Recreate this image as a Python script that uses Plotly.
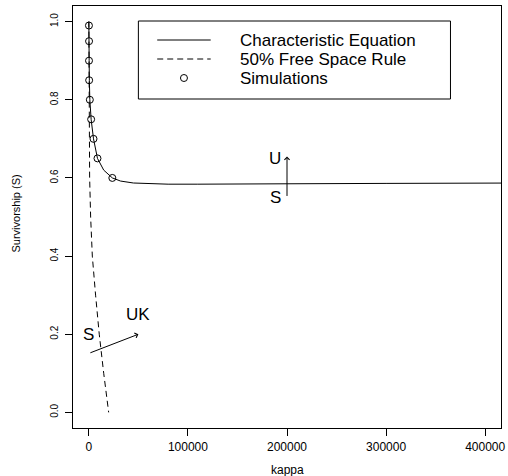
import plotly.graph_objects as go

# ---- data ----
char_kappa = [0, 100, 200, 300, 500, 1000, 2300, 4700, 8700, 15000, 23700, 32000,
              45000, 60000, 80000, 110000, 150000, 200000, 300000, 400000, 440000]
char_S = [1.0, 0.99, 0.95, 0.9, 0.85, 0.8, 0.75, 0.7, 0.65, 0.62, 0.6, 0.592,
          0.587, 0.585, 0.584, 0.584, 0.585, 0.585, 0.586, 0.587, 0.587]

free_kappa = [0, 50, 200, 450, 800, 1800, 3500, 6800, 10500, 15000, 20000]
free_S = [1.0, 0.9, 0.8, 0.7, 0.6, 0.5, 0.4, 0.3, 0.2, 0.1, 0.0]

sim_kappa = [100, 200, 150, 300, 1000, 2300, 4700, 8700, 23700]
sim_S = [0.99, 0.95, 0.9, 0.85, 0.8, 0.75, 0.7, 0.65, 0.6]

x_ticks = [0, 100000, 200000, 300000, 400000]
y_ticks = [0.0, 0.2, 0.4, 0.6, 0.8, 1.0]
y_tick_text = ["0.0", "0.2", "0.4", "0.6", "0.8", "1.0"]

# arrows: (x_tail, y_tail, x_head, y_head)
arrow_uk = (0, 0.151, 50000, 0.2)
arrow_u = (200000, 0.55, 200000, 0.655)
labels = [("S", 0, 0.2), ("UK", 50000, 0.25), ("U", 188000, 0.65), ("S", 188000, 0.55)]

legend_items = ["Characteristic Equation", "50% Free Space Rule", "Simulations"]

FONT = "Liberation Sans, Arial, sans-serif"
W, H = 508, 476
ML, MR, MT, MB = 73, 3, 6, 48
PW, PH = W - ML - MR, H - MT - MB


def px(x):
    return (x - ML) / PW


def py(y):
    return (H - MB - y) / PH


fig = go.Figure()
fig.add_trace(go.Scatter(x=char_kappa, y=char_S, mode="lines",
                         line=dict(color="black", width=1), showlegend=False))
fig.add_trace(go.Scatter(x=free_kappa, y=free_S, mode="lines",
                         line=dict(color="black", width=1, dash="6px,4px"), showlegend=False))
fig.add_trace(go.Scatter(x=sim_kappa, y=sim_S, mode="markers",
                         marker=dict(symbol="circle-open", size=7, color="black",
                                     line=dict(width=1, color="black")),
                         showlegend=False))

for (x0, y0, x1, y1) in (arrow_uk, arrow_u):
    fig.add_annotation(x=x1, y=y1, ax=x0, ay=y0, xref="x", yref="y", axref="x", ayref="y",
                       showarrow=True, arrowhead=4, arrowsize=1, arrowwidth=1,
                       arrowcolor="black", text="")

for t, x, y in labels:
    fig.add_annotation(x=x, y=y, xref="x", yref="y", text=t, showarrow=False,
                       xanchor="center", yanchor="middle",
                       font=dict(family=FONT, size=17, color="black"))

# legend box (drawn)
fig.add_shape(type="rect", xref="paper", yref="paper", x0=px(139), x1=px(454),
              y0=py(99), y1=py(21), line=dict(color="black", width=1))
rows = [40, 59, 78]
fig.add_shape(type="line", xref="paper", yref="paper", x0=px(158), x1=px(212),
              y0=py(rows[0]), y1=py(rows[0]), line=dict(color="black", width=1))
fig.add_shape(type="line", xref="paper", yref="paper", x0=px(158), x1=px(212),
              y0=py(rows[1]), y1=py(rows[1]), line=dict(color="black", width=1, dash="6px,4px"))
fig.add_shape(type="circle", xref="paper", yref="paper", xsizemode="pixel", ysizemode="pixel",
              xanchor=px(185), yanchor=py(rows[2]), x0=-3.5, x1=3.5, y0=-3.5, y1=3.5,
              line=dict(color="black", width=1))
for t, r in zip(legend_items, rows):
    fig.add_annotation(xref="paper", yref="paper", x=px(240), y=py(r), text=t,
                       xanchor="left", yanchor="middle", showarrow=False,
                       font=dict(family=FONT, size=17, color="black"))

# axis titles
fig.add_annotation(xref="paper", yref="paper", x=0.5, y=py(470), text="kappa",
                   xanchor="center", yanchor="middle",
                   showarrow=False, font=dict(family=FONT, size=12, color="black"))
fig.add_annotation(xref="paper", yref="paper", x=px(15), y=py(214), text="Survivorship (S)",
                   xanchor="center", yanchor="middle",
                   textangle=-90, showarrow=False, font=dict(family=FONT, size=11, color="black"))

fig.update_layout(
    width=W, height=H, margin=dict(l=ML, r=MR, t=MT, b=MB),
    paper_bgcolor="white", plot_bgcolor="white", showlegend=False,
    font=dict(family=FONT, color="black"),
    xaxis=dict(range=[-16000, 416000], tickvals=x_ticks, ticktext=[str(v) for v in x_ticks],
               ticks="outside", ticklen=7, tickwidth=1, tickcolor="black",
               showline=True, linecolor="black", linewidth=1, mirror=True,
               showgrid=False, zeroline=False, tickfont=dict(family=FONT, size=12),
               ticklabelstandoff=1, ticklabeloverflow="allow"),
    yaxis=dict(range=[-0.04, 1.04], tickvals=y_ticks, ticktext=y_tick_text,
               ticks="outside", ticklen=7, tickwidth=1, tickcolor="black", tickangle=-90,
               showline=True, linecolor="black", linewidth=1, mirror=True,
               showgrid=False, zeroline=False, tickfont=dict(family=FONT, size=10),
               ticklabelstandoff=3),
)

fig.write_html("out.html")
